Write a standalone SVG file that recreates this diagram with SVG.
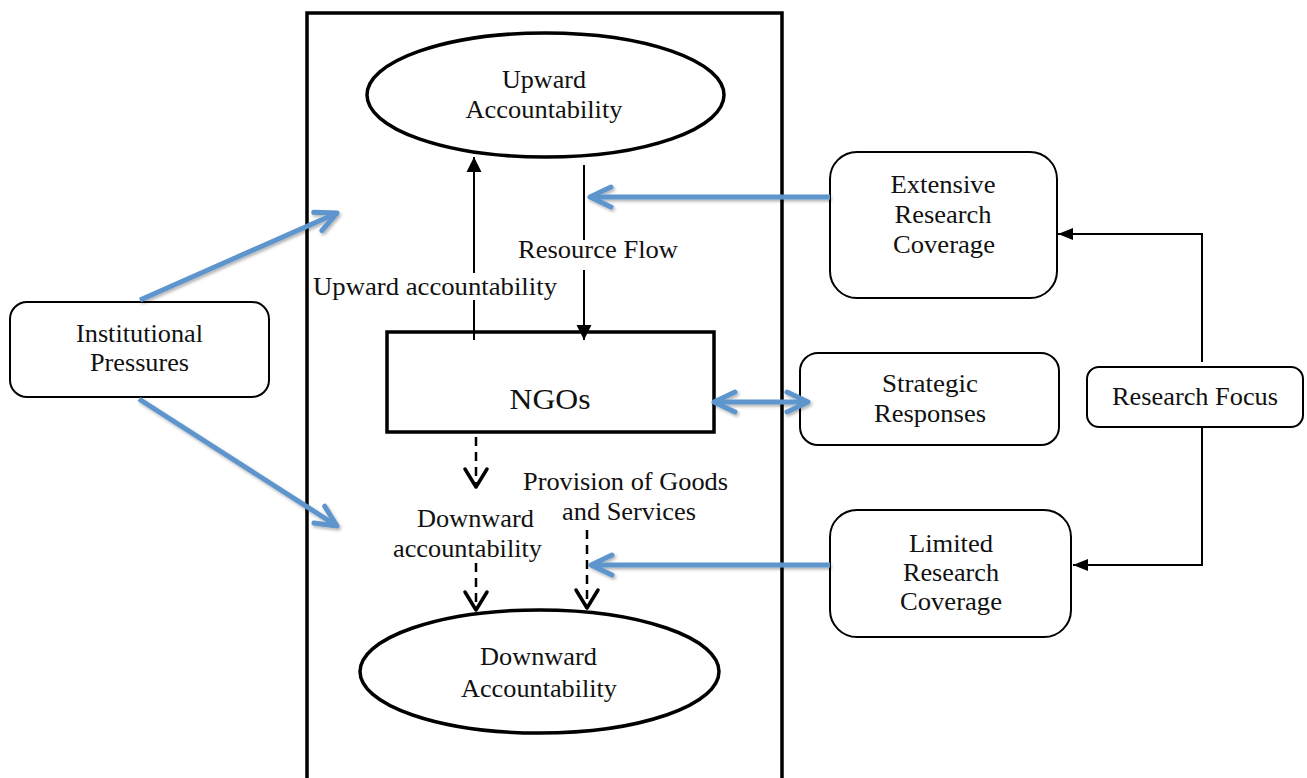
<svg xmlns="http://www.w3.org/2000/svg" width="1307" height="778" viewBox="0 0 1307 778">
<style>
text{font-family:"Liberation Serif","Times New Roman",serif;font-size:25px;fill:#111;text-anchor:middle}
.box{fill:#fff;stroke:#000;stroke-width:2}
.thick{fill:#fff;stroke:#000;stroke-width:3.5}
.blk{stroke:#000;stroke-width:2;fill:none}
.dash{stroke:#000;stroke-width:2.5;fill:none;stroke-dasharray:9 6}
.blue{stroke:#5E95CD;stroke-width:5;fill:none;filter:url(#sh)}
</style>
<defs>
<filter id="sh" filterUnits="userSpaceOnUse" x="0" y="0" width="1307" height="778">
<feDropShadow dx="1.5" dy="2" stdDeviation="1.5" flood-color="#000" flood-opacity="0.3"/>
</filter>
<marker id="bv" markerUnits="userSpaceOnUse" markerWidth="40" markerHeight="40" viewBox="-30 -20 40 40" refX="0" refY="0" orient="auto-start-reverse">
<path d="M-21,-10 L0,0 L-21,10" fill="none" stroke="#5E95CD" stroke-width="5" stroke-linecap="round" stroke-linejoin="round"/>
</marker>
<marker id="ba" markerUnits="userSpaceOnUse" markerWidth="30" markerHeight="30" viewBox="-20 -15 30 30" refX="0" refY="0" orient="auto">
<path d="M-15,-7.5 L0,0 L-15,7.5 Z" fill="#000"/>
</marker>
<marker id="bs" markerUnits="userSpaceOnUse" markerWidth="30" markerHeight="30" viewBox="-20 -15 30 30" refX="0" refY="0" orient="auto">
<path d="M-15,-6 L0,0 L-15,6 Z" fill="#000"/>
</marker>
<marker id="dv" markerUnits="userSpaceOnUse" markerWidth="40" markerHeight="40" viewBox="-25 -20 40 40" refX="0" refY="0" orient="auto">
<path d="M-18,-11 L0,0 L-18,11" fill="none" stroke="#000" stroke-width="3.5" stroke-linecap="round" stroke-linejoin="round"/>
</marker>
</defs>

<g id="frame"><rect x="307" y="13" width="475" height="800" fill="none" stroke="#000" stroke-width="3.5"/></g>

<g id="upward">
<ellipse cx="545.5" cy="95" rx="178.5" ry="62" class="thick"/>
<text x="544" y="88" textLength="84" lengthAdjust="spacingAndGlyphs">Upward</text>
<text x="544" y="118" textLength="157" lengthAdjust="spacingAndGlyphs">Accountability</text>
</g>

<g id="ngos">
<rect x="387" y="332" width="327" height="100" class="thick"/>
<text x="550" y="409" style="font-size:29px" textLength="81" lengthAdjust="spacingAndGlyphs">NGOs</text>
</g>

<g id="downward">
<ellipse cx="539.5" cy="671.5" rx="179.5" ry="61.5" class="thick"/>
<text x="538.5" y="665" textLength="117" lengthAdjust="spacingAndGlyphs">Downward</text>
<text x="539" y="697" textLength="156" lengthAdjust="spacingAndGlyphs">Accountability</text>
</g>

<g id="institutional">
<rect x="10" y="302" width="259" height="95" rx="17" class="box"/>
<text x="139.5" y="342" textLength="127" lengthAdjust="spacingAndGlyphs">Institutional</text>
<text x="139.5" y="371" textLength="99" lengthAdjust="spacingAndGlyphs">Pressures</text>
</g>

<g id="extensive">
<rect x="830" y="152" width="227" height="146" rx="27" class="box"/>
<text x="943" y="193" textLength="105" lengthAdjust="spacingAndGlyphs">Extensive</text>
<text x="943" y="223" textLength="97" lengthAdjust="spacingAndGlyphs">Research</text>
<text x="944" y="253" textLength="102" lengthAdjust="spacingAndGlyphs">Coverage</text>
</g>

<g id="strategic">
<rect x="800" y="353" width="259" height="92" rx="18" class="box"/>
<text x="930" y="392" textLength="96" lengthAdjust="spacingAndGlyphs">Strategic</text>
<text x="930" y="422" textLength="112" lengthAdjust="spacingAndGlyphs">Responses</text>
</g>

<g id="focus">
<rect x="1087" y="367" width="216" height="60" rx="12" class="box"/>
<text x="1195" y="405" textLength="166" lengthAdjust="spacingAndGlyphs">Research Focus</text>
</g>

<g id="limited">
<rect x="830" y="510" width="241" height="127" rx="27" class="box"/>
<text x="951" y="552" textLength="84" lengthAdjust="spacingAndGlyphs">Limited</text>
<text x="951" y="581" textLength="96" lengthAdjust="spacingAndGlyphs">Research</text>
<text x="951" y="610" textLength="102" lengthAdjust="spacingAndGlyphs">Coverage</text>
</g>

<g id="labels">
<text x="598" y="258" textLength="160" lengthAdjust="spacingAndGlyphs">Resource Flow</text>
<text x="435" y="295" textLength="244" lengthAdjust="spacingAndGlyphs">Upward accountability</text>
<text x="625.5" y="490" textLength="205" lengthAdjust="spacingAndGlyphs">Provision of Goods</text>
<text x="629" y="520" textLength="134" lengthAdjust="spacingAndGlyphs">and Services</text>
<text x="475.5" y="527" textLength="117" lengthAdjust="spacingAndGlyphs">Downward</text>
<text x="467.5" y="557" textLength="149" lengthAdjust="spacingAndGlyphs">accountability</text>
</g>

<g id="connectors">
<line x1="474" y1="273" x2="474" y2="157" class="blk" marker-end="url(#ba)"/>
<line x1="474" y1="300" x2="474" y2="340" class="blk"/>
<line x1="584" y1="165" x2="584" y2="240" class="blk"/>
<line x1="584" y1="270" x2="584" y2="340" class="blk" marker-end="url(#ba)"/>
<polyline points="1202,362 1202,234 1058,234" class="blk" marker-end="url(#bs)"/>
<polyline points="1202,427 1202,565 1073,565" class="blk" marker-end="url(#bs)"/>
<line x1="476" y1="437" x2="476" y2="487" class="dash" marker-end="url(#dv)"/>
<line x1="476" y1="563" x2="476" y2="610" class="dash" marker-end="url(#dv)"/>
<line x1="587" y1="530" x2="587" y2="608" class="dash" marker-end="url(#dv)"/>
<line x1="140" y1="300" x2="337" y2="213" class="blue" marker-end="url(#bv)"/>
<line x1="139" y1="399" x2="337" y2="526" class="blue" marker-end="url(#bv)"/>
<line x1="830" y1="197" x2="590" y2="197" class="blue" marker-end="url(#bv)"/>
<line x1="830" y1="565" x2="591" y2="565" class="blue" marker-end="url(#bv)"/>
<line x1="714" y1="402" x2="808" y2="402" class="blue" marker-start="url(#bv)" marker-end="url(#bv)"/>
</g>
</svg>
